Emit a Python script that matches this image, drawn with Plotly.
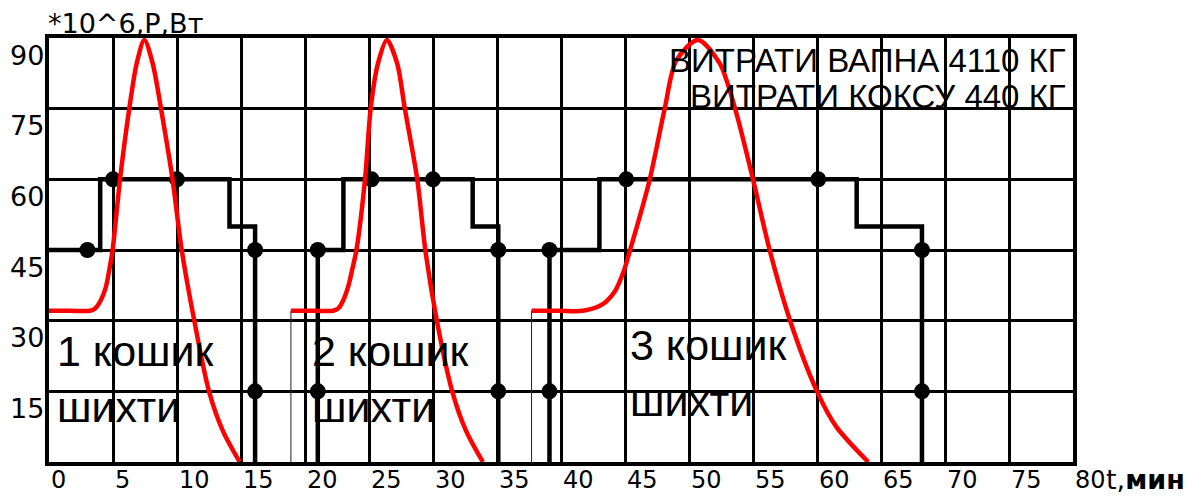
import plotly.graph_objects as go

# ---------------- data ----------------
x_ticks = [0, 5, 10, 15, 20, 25, 30, 35, 40, 45, 50, 55, 60, 65, 70, 75, 80]
y_ticks = [15, 30, 45, 60, 75, 90]

# red power curves (P, *10^6 W) for the three charges
p1_t = [0, 1.6, 3.2, 3.6, 4.06, 4.45, 4.71, 4.97, 5.55, 6.27, 6.85, 7.45, 8.1, 8.75, 9.65, 10.37, 11.35, 12.5, 13.6, 14.9]
p1_v = [32.1, 32.1, 32.1, 32.6, 34.4, 37.2, 40.8, 45, 60, 75, 84.6, 89.6, 84.6, 75, 60, 45, 30, 15, 6.5, 0]

p2_t = [18.9, 20.6, 22.2, 22.6, 23.0, 23.4, 23.7, 24.02, 24.69, 25.13, 25.7, 26.4, 27.2, 27.8, 28.77, 29.4, 30.3, 31.5, 32.6, 33.9]
p2_v = [32.1, 32.1, 32.1, 32.6, 34.4, 37.5, 41, 45, 60, 75, 84.6, 89.6, 84.6, 75, 60, 45, 30, 15, 6.5, 0]

p3_t = [37.7, 39.8, 41.7, 43.2, 44.2, 44.9, 45.4, 46.9, 48.1, 49.0, 50.7, 52.4, 53.6, 55.0, 56.3, 57.9, 60.0, 61.5, 64.0]
p3_v = [32.1, 32.1, 32.1, 33.4, 36.2, 40.5, 45, 59.6, 75, 85.2, 89.6, 84.6, 75, 60, 45, 30, 15, 7.5, 0]

# thin start markers of curves 2 and 3
start_t = [18.9, 37.7]
start_v = 32.1

# black step lines
s1_t = [0, 4.0, 4.0, 14.1, 14.1, 16.1, 16.1]
s1_v = [45, 45, 60, 60, 50, 50, 0]
s2_t = [21.0, 21.0, 23.0, 23.0, 33.1, 33.1, 35.1, 35.1]
s2_v = [0, 45, 45, 60, 60, 50, 50, 0]
s3_t = [39.1, 39.1, 43.0, 43.0, 63.1, 63.1, 68.2, 68.2]
s3_v = [0, 45, 45, 60, 60, 50, 50, 0]

# black dots
dot_t = [3.0, 5.0, 10.0, 16.1, 16.1, 21.0, 21.0, 25.2, 30.0, 35.1, 35.1, 39.1, 39.1, 45.1, 60.1, 68.2, 68.2]
dot_v = [45, 60, 60, 45, 15, 45, 15, 60, 60, 45, 15, 45, 15, 60, 60, 45, 15]

# texts
basket_labels = ["1 кошик<br>шихти", "2 кошик<br>шихти", "3 кошик<br>шихти"]
basket_t = [0.5, 20.4, 45.2]
basket_v = [17.6, 17.6, 18.9]
note_lines = ["ВИТРАТИ ВАПНА 4110 КГ", "ВИТРАТИ КОКСУ 440 КГ"]
note_v = [85.3, 77.6]
note_t = 79.6
y_title = "*10^6,P,Вт"
x_title = "t,<b>мин</b>"

FONT = "Liberation Sans, Arial, sans-serif"
TICKFONT = "DejaVu Sans, Verdana, sans-serif"

fig = go.Figure()

# thin start lines
tx, ty = [], []
for t in start_t:
    tx += [t, t, None]
    ty += [0, start_v, None]
fig.add_trace(go.Scatter(x=tx, y=ty, mode="lines", line=dict(color="#222222", width=1),
                         hoverinfo="skip", showlegend=False))

# step lines
for st, sv in [(s1_t, s1_v), (s2_t, s2_v), (s3_t, s3_v)]:
    fig.add_trace(go.Scatter(x=st, y=sv, mode="lines", line=dict(color="black", width=4.5),
                             showlegend=False))

fig.add_trace(go.Scatter(x=dot_t, y=dot_v, mode="markers",
                         marker=dict(color="black", size=16), showlegend=False))

# red curves
for pt, pv in [(p1_t, p1_v), (p2_t, p2_v), (p3_t, p3_v)]:
    fig.add_trace(go.Scatter(x=pt, y=pv, mode="lines",
                             line=dict(color="#ff0000", width=4.5, shape="spline", smoothing=0.8),
                             showlegend=False))

ann = []
for lab, t, v in zip(basket_labels, basket_t, basket_v):
    ann.append(dict(x=t, y=v, xref="x", yref="y", text=lab, showarrow=False, xanchor="left",
                    yanchor="middle", align="left", font=dict(family=FONT, size=43, color="black")))
for line, v in zip(note_lines, note_v):
    ann.append(dict(x=note_t, y=v, xref="x", yref="y", text=line, showarrow=False, xanchor="right",
                    yanchor="middle", font=dict(family=FONT, size=33, color="black")))
for t in x_ticks:
    ann.append(dict(x=t, y=0, xref="x", yref="paper", text=str(t), showarrow=False, xanchor="left",
                    yanchor="middle", xshift=0, yshift=-18, font=dict(family=TICKFONT, size=24, color="black")))
for v in y_ticks:
    ann.append(dict(x=0, y=v, xref="paper", yref="y", text=str(v), showarrow=False, xanchor="right",
                    yanchor="middle", xshift=-3, yshift=-17, font=dict(family=TICKFONT, size=27, color="black")))
ann.append(dict(x=0, y=1, xref="paper", yref="paper", text=y_title, showarrow=False, xanchor="left",
                yanchor="middle", xshift=-3, yshift=15, font=dict(family=TICKFONT, size=27, color="black")))
ann.append(dict(x=1, y=0, xref="paper", yref="paper", text=x_title, showarrow=False, xanchor="left",
                yanchor="middle", xshift=31, yshift=-17, font=dict(family=TICKFONT, size=27, color="black")))

# the page body adds an 8 px offset, so the figure is 8 px smaller and margins are shifted
fig.update_layout(
    width=1188, height=489,
    margin=dict(l=41, r=123, t=30, b=35, autoexpand=False),
    paper_bgcolor="white", plot_bgcolor="white",
    annotations=ann,
    xaxis=dict(range=[0, 80], tickvals=x_ticks, showticklabels=False, ticks="",
               showgrid=True, gridcolor="black", gridwidth=3, zeroline=False,
               showline=True, linecolor="black", linewidth=4, mirror=True),
    yaxis=dict(range=[0, 90], tickvals=[0] + y_ticks, showticklabels=False, ticks="",
               showgrid=True, gridcolor="black", gridwidth=3, zeroline=False,
               showline=True, linecolor="black", linewidth=4, mirror=True),
)

fig.write_html("out.html")
